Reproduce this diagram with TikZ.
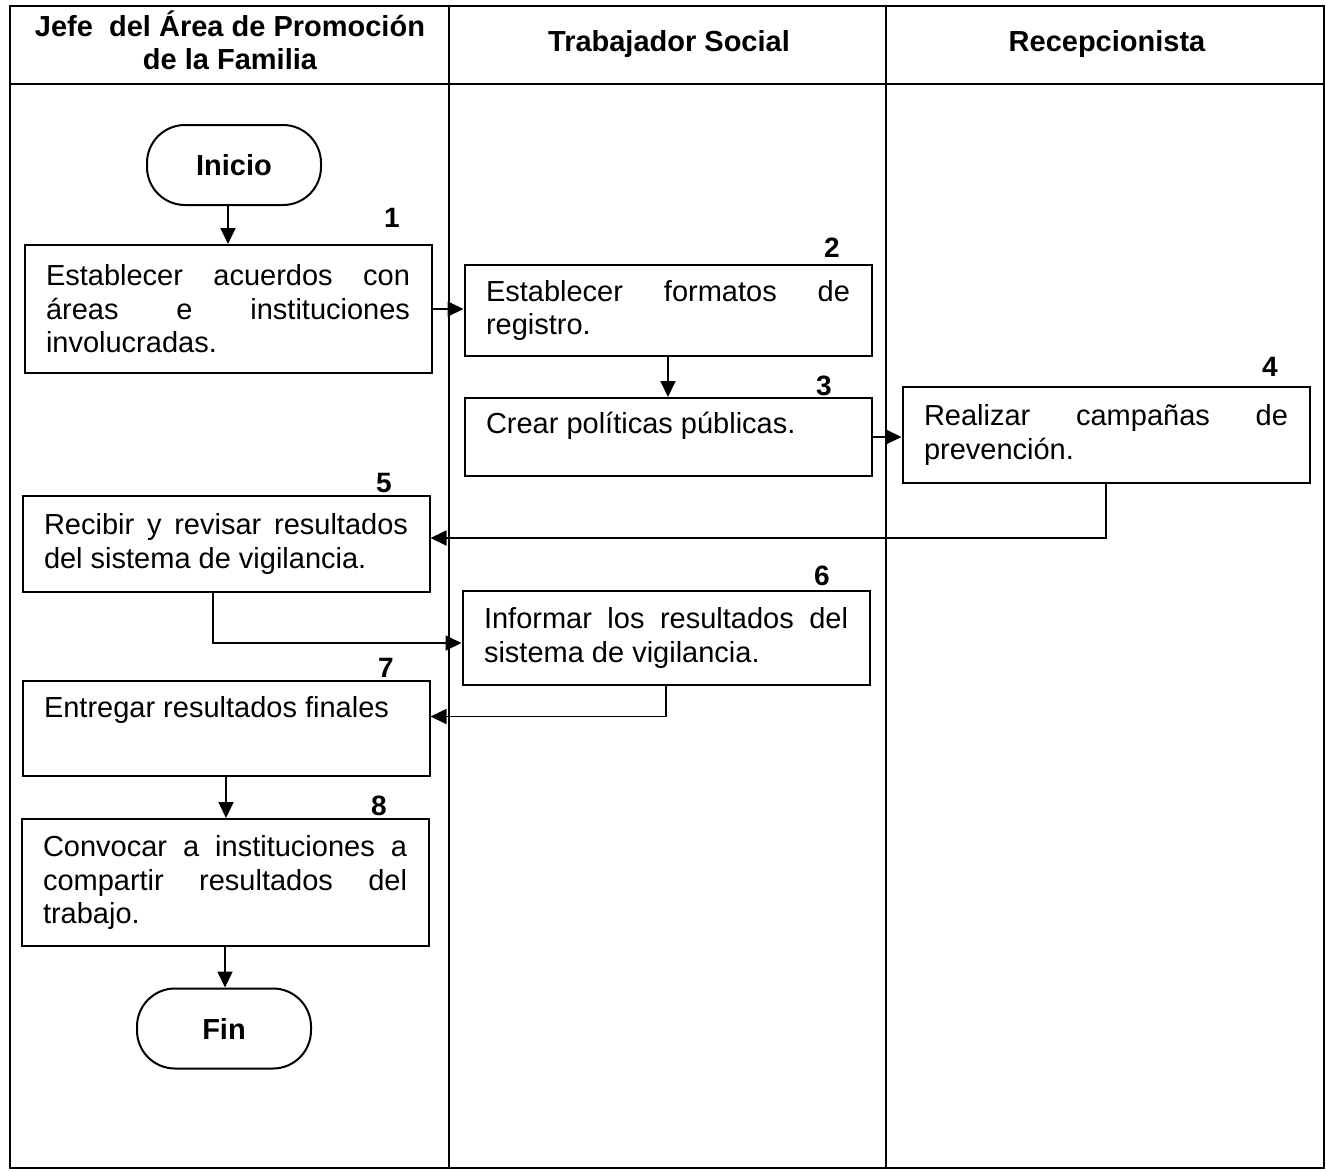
\documentclass[tikz,border=0pt]{standalone}
\usepackage{fontspec}
\setmainfont{Liberation Sans}
\usetikzlibrary{arrows.meta,positioning}

\begin{document}
\begin{tikzpicture}[x=1pt,y=-1pt,line width=2pt,
  box/.style={draw,rectangle,align=justify,text width=364pt,inner xsep=0pt,
    minimum width=407pt,font=\fontsize{29}{33.5}\selectfont},
  term/.style={draw,rectangle,rounded corners=38pt,minimum width=174pt,
    minimum height=80pt,font=\bfseries\fontsize{29}{33.5}\selectfont},
  num/.style={inner sep=0pt,font=\bfseries\fontsize{28}{30}\selectfont},
  lanehead/.style={align=center,font=\bfseries\fontsize{29}{33}\selectfont},
  flow/.style={-{Triangle[length=16pt,width=15pt]},line width=1.8pt}]
\useasboundingbox (0,0) rectangle (1326,1171);
% Lanes
\draw[line width=2.6pt] (10,6) rectangle (1324,1168);
\draw (10,84) -- (1324,84);
\draw (449,6) -- (449,1168);
\draw (886,6) -- (886,1168);
\node[lanehead] (h1) at (230,40) {Jefe\ \ del Área de Promoción\\de la Familia};
\node[lanehead] (h2) at (669,44) {Trabajador Social};
\node[lanehead] (h3) at (1107,44) {Recepcionista};
% Steps
\node[term] (inicio) at (234,165) {Inicio};
\node[box,minimum height=128pt] (b1) at (228,309)
  {Establecer acuerdos con\linebreak áreas e instituciones\linebreak involucradas.};
\node[box,minimum height=91pt] (b2) at (668,310.5)
  {Establecer formatos de\linebreak registro.};
\node[box,minimum height=78pt] (b3) at (668,437)
  {Crear políticas públicas.\\[-15pt] \strut};
\node[box,minimum height=96pt] (b4) at (1106,435)
  {Realizar campañas de\linebreak prevención.};
\node[box,minimum height=96pt] (b5) at (226,544)
  {Recibir y revisar resultados\linebreak del sistema de vigilancia.};
\node[box,minimum height=94pt] (b6) at (666,638)
  {Informar los resultados del\linebreak sistema de vigilancia.};
\node[box,minimum height=95pt] (b7) at (226,728.5)
  {Entregar resultados finales\\ \strut};
\node[box,minimum height=127pt] (b8) at (225,882.5)
  {Convocar a instituciones a\linebreak compartir resultados del\linebreak trabajo.};
\node[term] (fin) at (224,1028.5) {Fin};
% Step numbers
\node[num] (n1) at (392,218) {1};
\node[num] (n2) at (832,248) {2};
\node[num] (n3) at (824,386) {3};
\node[num] (n4) at (1270,367) {4};
\node[num] (n5) at (384,483) {5};
\node[num] (n6) at (822,576) {6};
\node[num] (n7) at (386,668) {7};
\node[num] (n8) at (379,806) {8};
% Connectors
\draw[flow] (inicio.south -| b1) -- (b1.north);
\draw[flow] (b1.east) -- (b1.east -| b2.west);
\draw[flow] (b2.south) -- (b2.south |- b3.north);
\draw[flow] (b3.east) -- (b3.east -| b4.west);
\draw[flow] (b4.south) |- ([yshift=6pt]b5.east);
\draw[flow] ([xshift=-13pt]b5.south) |- ([yshift=-5pt]b6.west);
\draw[flow] (b6.south) |- ([yshift=12pt]b7.east);
\draw[flow] (b7.south) -- (b7.south |- b8.north);
\draw[flow] (b8.south) -- (b8.south |- fin.north);
\end{tikzpicture}
\end{document}
